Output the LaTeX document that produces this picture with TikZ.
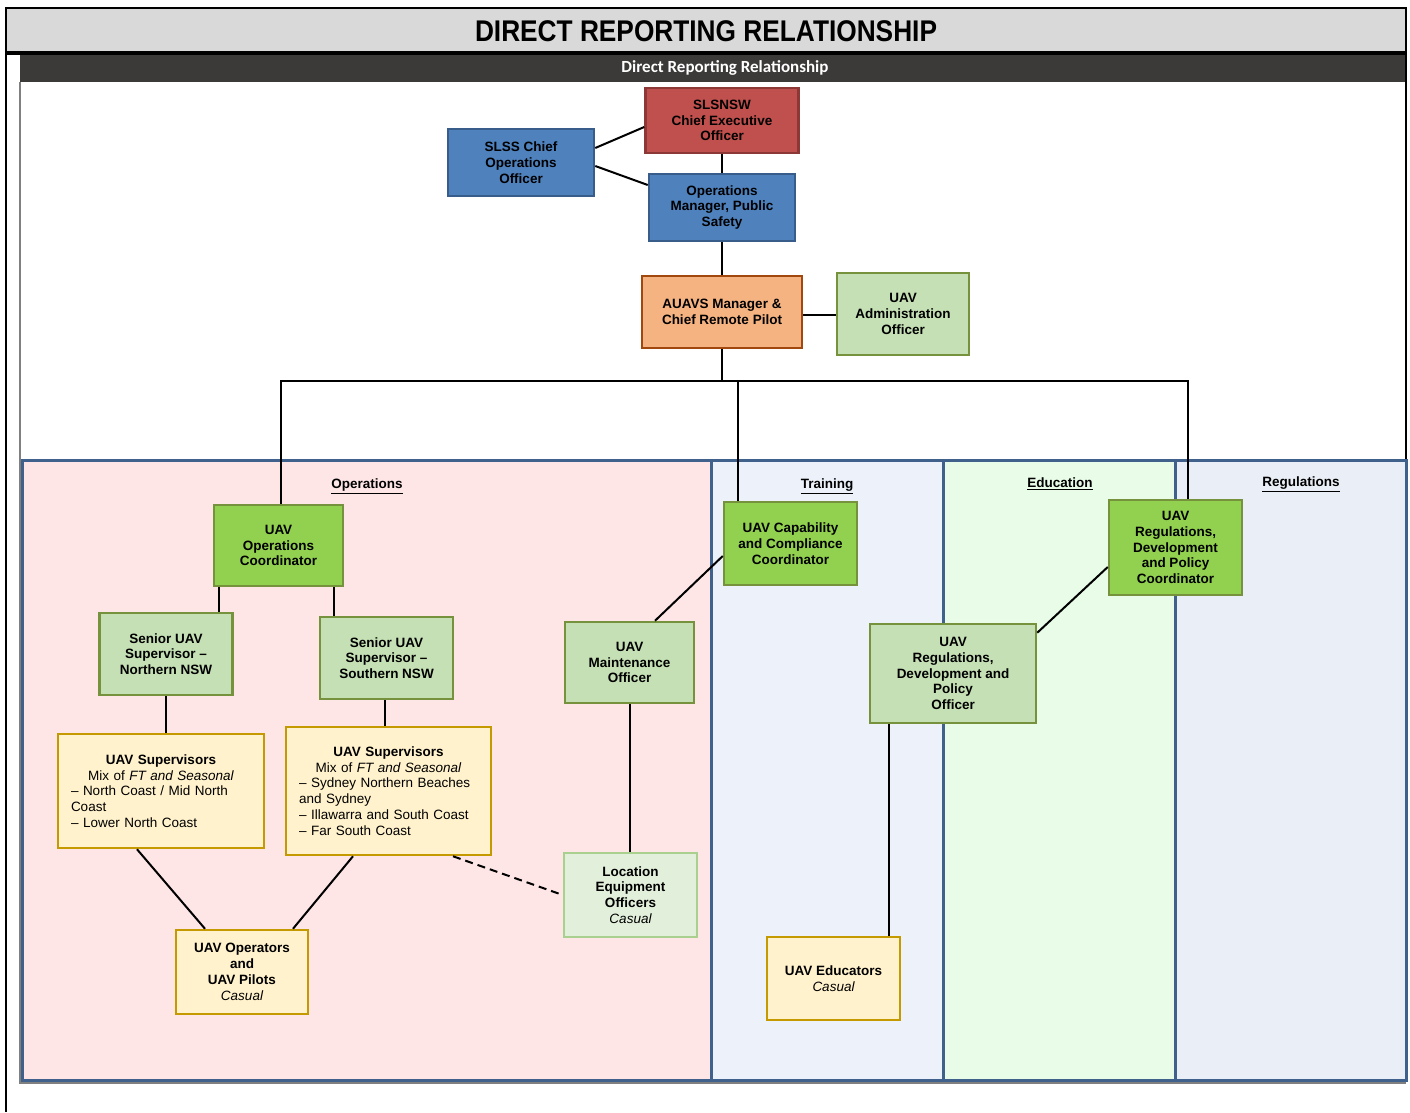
\documentclass[tikz,border=0pt]{standalone}
\usepackage{fontspec}
\usepackage{graphicx}
\setmainfont{Liberation Sans}
\newfontfamily\calibrifont{Carlito}
\definecolor{ceoRed}{HTML}{C0504D}
\definecolor{ceoEdge}{HTML}{8C3836}
\definecolor{mgrBlue}{HTML}{4F81BD}
\definecolor{mgrEdge}{HTML}{385D8A}
\definecolor{auOrange}{HTML}{F6B382}
\definecolor{auEdge}{HTML}{A0480E}
\definecolor{paleGreen}{HTML}{C5E0B4}
\definecolor{leafGreen}{HTML}{92D050}
\definecolor{greenEdge}{HTML}{76923C}
\definecolor{casYellow}{HTML}{FFF2CC}
\definecolor{casEdge}{HTML}{C49A00}
\definecolor{ghostGreen}{HTML}{E2EFDA}
\definecolor{ghostEdge}{HTML}{A9D08E}
\definecolor{laneEdge}{HTML}{41618D}
\definecolor{opsLane}{HTML}{FFE6E6}
\definecolor{trnLane}{HTML}{ECF1FA}
\definecolor{eduLane}{HTML}{E8FCE8}
\definecolor{regLane}{HTML}{EAEEF6}
\definecolor{headGray}{HTML}{D9D9D9}
\definecolor{bandDark}{HTML}{3B3A38}
\begin{document}
\begin{tikzpicture}
        [x=1pt, y=-1pt,
        box/.style={draw, line width=2.5pt, align=center, inner sep=2pt,
            font=\bfseries\fontsize{13.5}{15.8}\selectfont},
        boxRed/.style={box, fill=ceoRed, draw=ceoEdge},
        boxBlue/.style={box, fill=mgrBlue, draw=mgrEdge},
        boxOrange/.style={box, fill=auOrange, draw=auEdge},
        boxPale/.style={box, fill=paleGreen, draw=greenEdge},
        boxGreen/.style={box, fill=leafGreen, draw=greenEdge},
        boxYellow/.style={box, fill=casYellow, draw=casEdge},
        boxGhost/.style={box, fill=ghostGreen, draw=ghostEdge},
        boxList/.style={boxYellow, inner xsep=13pt, font=\mdseries\fontsize{13.5}{15.8}\selectfont},
        lane/.style={draw=laneEdge, line width=3pt},
        laneTitle/.style={font=\bfseries\fontsize{13.5}{15.8}\selectfont},
        link/.style={line width=2pt}]
        \useasboundingbox (0,0) rectangle (1410,1112);
        % headers
        \fill[headGray] (6,8) rectangle (1406,53);
        \fill[bandDark] (20,55) rectangle (1406,82);
        \draw[line width=2.5pt] (6,1112) -- (6,8) -- (1406,8) -- (1406,1082);
        \draw[line width=3.5pt] (6,53) -- (1406,53);
        \node[font=\bfseries\fontsize{26}{30}\selectfont] (T) at (706,31) {\scalebox{1.01}[1.15]{DIRECT REPORTING RELATIONSHIP}};
        \node[font=\calibrifont\bfseries\fontsize{17}{20}\selectfont, text=white] (S) at (725,68) {Direct Reporting Relationship};
        % lanes
        \draw[lane, fill=opsLane] (22,460) rectangle (711,1080);
        \draw[lane, fill=trnLane] (711,460) rectangle (943,1080);
        \draw[lane, fill=eduLane] (943,460) rectangle (1175,1080);
        \draw[lane, fill=regLane] (1175,460) rectangle (1406,1080);
        \draw[gray, line width=1.5pt] (20,82) -- (20,1083) -- (1406,1083);
        \node[laneTitle] (L1) at (367,486) {\underline{Operations}};
        \node[laneTitle] (L2) at (827,486) {\underline{Training}};
        \node[laneTitle] (L3) at (1060,484) {\underline{Education}};
        \node[laneTitle] (L4) at (1301,484) {\underline{Regulations}};
        % top of the chart
        \node[boxRed, minimum width=153, minimum height=65] (CEO) at (722,120.5) {SLSNSW\\Chief Executive\\Officer};
        \node[boxBlue, minimum width=146, minimum height=67] (COO) at (521,162.5) {SLSS Chief\\Operations\\Officer};
        \node[boxBlue, minimum width=146, minimum height=67] (OM) at (722,207.5) {Operations\\Manager, Public\\Safety};
        \node[boxOrange, minimum width=160, minimum height=72] (AM) at (722,312) {AUAVS Manager \&\\Chief Remote Pilot};
        \node[boxPale, minimum width=132, minimum height=82] (AO) at (903,314) {UAV\\Administration\\Officer};
        \coordinate (J) at (722,381);
        % operations
        \node[boxGreen, minimum width=129, minimum height=81] (OC) at (278.5,545.5) {UAV\\Operations\\Coordinator};
        \node[boxPale, minimum width=133, minimum height=82] (SN) at (166,654) {Senior UAV\\Supervisor –\\Northern NSW};
        \node[boxPale, minimum width=133, minimum height=82] (SS) at (386.5,658) {Senior UAV\\Supervisor –\\Southern NSW};
        \node[boxList, text width=180, minimum height=114] (VN) at (161,791)
            {\centering\bfseries UAV Supervisors\\\mdseries Mix of \textit{FT and Seasonal}\par
             \raggedright – North Coast / Mid North\\Coast\\– Lower North Coast\par};
        \node[boxList, text width=179, minimum height=128] (VS) at (388.5,791)
            {\centering\bfseries UAV Supervisors\\\mdseries Mix of \textit{FT and Seasonal}\par
             \raggedright – Sydney Northern Beaches\\and Sydney\\– Illawarra and South Coast\\– Far South Coast\par};
        \node[boxYellow, minimum width=132, minimum height=84] (OP) at (242,972) {UAV Operators\\and\\UAV Pilots\\{\mdseries\itshape Casual}};
        \node[boxPale, minimum width=129, minimum height=81] (MO) at (629.5,662.5) {UAV\\Maintenance\\Officer};
        \node[boxGhost, minimum width=133, minimum height=84] (LE) at (630.5,895) {Location\\Equipment\\Officers\\{\mdseries\itshape Casual}};
        % training, education, regulations
        \node[boxGreen, minimum width=133, minimum height=83] (CC) at (790.5,543.5) {UAV Capability\\and Compliance\\Coordinator};
        \node[boxPale, minimum width=166, minimum height=99] (RO) at (953,673.5) {UAV\\Regulations,\\Development and\\Policy\\Officer};
        \node[boxYellow, minimum width=133, minimum height=83] (ED) at (833.5,978.5) {UAV Educators\\{\mdseries\itshape Casual}};
        \node[boxGreen, minimum width=133, minimum height=95] (RC) at (1175.5,547.5) {UAV\\Regulations,\\Development\\and Policy\\Coordinator};
        
        \draw[link] ([yshift=14.5pt]COO.east) -- ([yshift=-6.5pt]CEO.west);
        \draw[link] ([yshift=-3.5pt]COO.east) -- ([yshift=22.5pt]OM.west);
        \draw[link] (CEO.south) -- (OM.north);
        \draw[link] (OM.south) -- (AM.north);
        \draw[link] ([yshift=-3pt]AM.east) -- ([yshift=-3pt]AM.east -| AO.west);
        \draw[link] (AM.south) -- (J);
        \draw[link] ([xshift=2.5pt]OC.north) |- (J) -| ([xshift=12.5pt]RC.north);
        \draw[link] (J) -| ([xshift=15pt]CC.north west);
        
        \draw[link] ([xshift=6pt]OC.south west) -- ([xshift=6pt]OC.south west |- SN.north);
        \draw[link] ([xshift=-10pt]OC.south east) -- ([xshift=-10pt]OC.south east |- SS.north);
        \draw[link] (SN.south) -- (SN.south |- VN.north);
        \draw[link] ([xshift=-2pt]SS.south) -- ([xshift=-2pt]SS.south |- VS.north);
        \draw[link] ([xshift=-24pt]VN.south) -- ([xshift=-37pt]OP.north);
        \draw[link] ([xshift=-35.5pt]VS.south) -- ([xshift=51pt]OP.north);
        \draw[link, dashed, dash pattern=on 8pt off 5pt] ([xshift=64.5pt]VS.south) -- (LE.west);
        \draw[link] ([yshift=-12.5pt]CC.west) -- ([xshift=25.5pt]MO.north);
        \draw[link] (MO.south) -- (MO.south |- LE.north);
        \draw[link] ([yshift=-19.5pt]RC.west) -- ([yshift=-10pt]RO.north east);
        \draw[link] ([xshift=-64pt]RO.south) -- ([xshift=-64pt]RO.south |- ED.north);
    
    \end{tikzpicture}
\end{document}
